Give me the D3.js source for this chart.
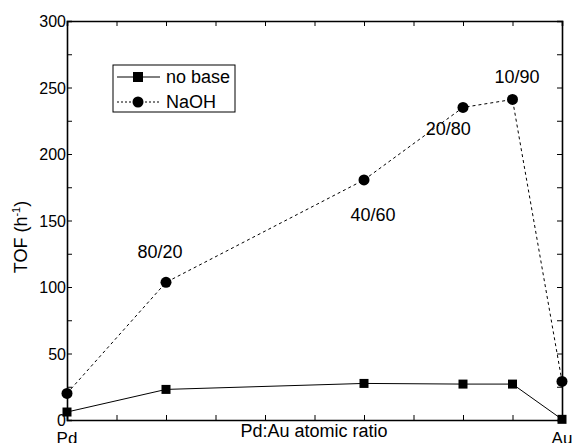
<!DOCTYPE html>
<html>
<head>
<meta charset="utf-8">
<script src="https://cdn.jsdelivr.net/npm/d3@7"></script>
<style>
  body { margin: 0; background: #fff; }
  text { font-family: Arial, "Liberation Sans", sans-serif; fill: #000; }
</style>
</head>
<body>
<div id="chart"></div>
<script>
// Au content (%) for each sample, and measured TOF
const noBaseX = [0, 20, 60, 80, 90, 100];
const noBaseTOF = [6, 23, 27.5, 27, 27, 0.5];
const naohX = [0, 20, 60, 80, 90, 100];
const naohTOF = [20, 103.5, 180.5, 235, 241, 29];
const ratioLabels = ["80/20", "40/60", "20/80", "10/90"];
const ratioLabelAt = [[18.8, 121.5], [61.8, 149.5], [77, 214], [90.9, 253.5]];
const yTicks = [0, 50, 100, 150, 200, 250, 300];

const width = 575, height = 443;
const margin = {top: 21, right: 13, bottom: 23, left: 67};

const svg = d3.select("#chart").append("svg")
  .attr("width", width).attr("height", height);

const x = d3.scaleLinear().domain([0, 100]).range([margin.left, width - margin.right]);
const y = d3.scaleLinear().domain([0, 300]).range([height - margin.bottom, margin.top]);

// axes, ticks pointing inward
const minorY = d3.range(0, 301, 25);
const tickX = d3.range(0, 101, 10);

svg.append("g").attr("transform", `translate(0,${y(0)})`)
  .call(d3.axisTop(x).tickValues(tickX).tickSize(5).tickFormat(""));
svg.append("g").attr("transform", `translate(0,${y(300)})`)
  .call(d3.axisBottom(x).tickValues(tickX).tickSize(5).tickFormat(""));
svg.append("g").attr("transform", `translate(${x(0)},0)`)
  .call(d3.axisRight(y).tickValues(minorY).tickSize(5).tickFormat(""));
svg.append("g").attr("transform", `translate(${x(100)},0)`)
  .call(d3.axisLeft(y).tickValues(minorY).tickSize(5).tickFormat(""));
svg.selectAll(".domain").attr("stroke", "#000").attr("stroke-width", 1.6);
svg.selectAll(".tick line").attr("stroke", "#000");

// y tick labels
svg.append("g").selectAll("text").data(yTicks).join("text")
  .attr("x", x(0) - 1).attr("y", d => y(d) + 6)
  .attr("text-anchor", "end").attr("font-size", 16)
  .text(d => d);

// x end labels
svg.append("text").attr("x", x(0)).attr("y", 444).attr("text-anchor", "middle")
  .attr("font-size", 17).text("Pd");
svg.append("text").attr("x", x(100)).attr("y", 444).attr("text-anchor", "middle")
  .attr("font-size", 17).text("Au");
svg.append("text").attr("x", 314).attr("y", 437).attr("text-anchor", "middle")
  .attr("font-size", 18).text("Pd:Au atomic ratio");

// y title
const yt = svg.append("text").attr("transform", `translate(27,237) rotate(-90)`)
  .attr("text-anchor", "middle").attr("font-size", 18);
yt.append("tspan").text("TOF (h");
yt.append("tspan").attr("dy", -7).attr("font-size", 11).text("-1");
yt.append("tspan").attr("dy", 7).text(")");

// series
const line = d3.line().x(d => x(d[0])).y(d => y(d[1]));
const noBase = noBaseX.map((v, i) => [v, noBaseTOF[i]]);
const naoh = naohX.map((v, i) => [v, naohTOF[i]]);

svg.append("path").datum(noBase).attr("d", line)
  .attr("fill", "none").attr("stroke", "#000").attr("stroke-width", 1);
svg.append("path").datum(naoh).attr("d", line)
  .attr("fill", "none").attr("stroke", "#000").attr("stroke-width", 1)
  .attr("stroke-dasharray", "3,3");

svg.append("g").selectAll("rect").data(noBase).join("rect")
  .attr("x", d => x(d[0]) - 4.5).attr("y", d => y(d[1]) - 4.5)
  .attr("width", 9).attr("height", 9).attr("fill", "#000");
svg.append("g").selectAll("circle").data(naoh).join("circle")
  .attr("cx", d => x(d[0])).attr("cy", d => y(d[1])).attr("r", 5.5)
  .attr("fill", "#000");

// composition labels
svg.append("g").selectAll("text").data(ratioLabels).join("text")
  .attr("x", (d, i) => x(ratioLabelAt[i][0])).attr("y", (d, i) => y(ratioLabelAt[i][1]))
  .attr("text-anchor", "middle").attr("font-size", 18)
  .text(d => d);

// legend
const lg = svg.append("g");
lg.append("rect").attr("x", 113).attr("y", 65).attr("width", 122).attr("height", 47)
  .attr("fill", "#fff").attr("stroke", "#000").attr("stroke-width", 1);
lg.append("line").attr("x1", 117).attr("x2", 160).attr("y1", 77).attr("y2", 77)
  .attr("stroke", "#000");
lg.append("rect").attr("x", 133).attr("y", 72).attr("width", 10).attr("height", 10).attr("fill", "#000");
lg.append("text").attr("x", 166).attr("y", 83).attr("font-size", 18).text("no base");
lg.append("line").attr("x1", 117).attr("x2", 160).attr("y1", 102).attr("y2", 102)
  .attr("stroke", "#000").attr("stroke-dasharray", "2,2");
lg.append("circle").attr("cx", 138).attr("cy", 102).attr("r", 5.5).attr("fill", "#000");
lg.append("text").attr("x", 166).attr("y", 108).attr("font-size", 18).text("NaOH");
</script>
</body>
</html>
